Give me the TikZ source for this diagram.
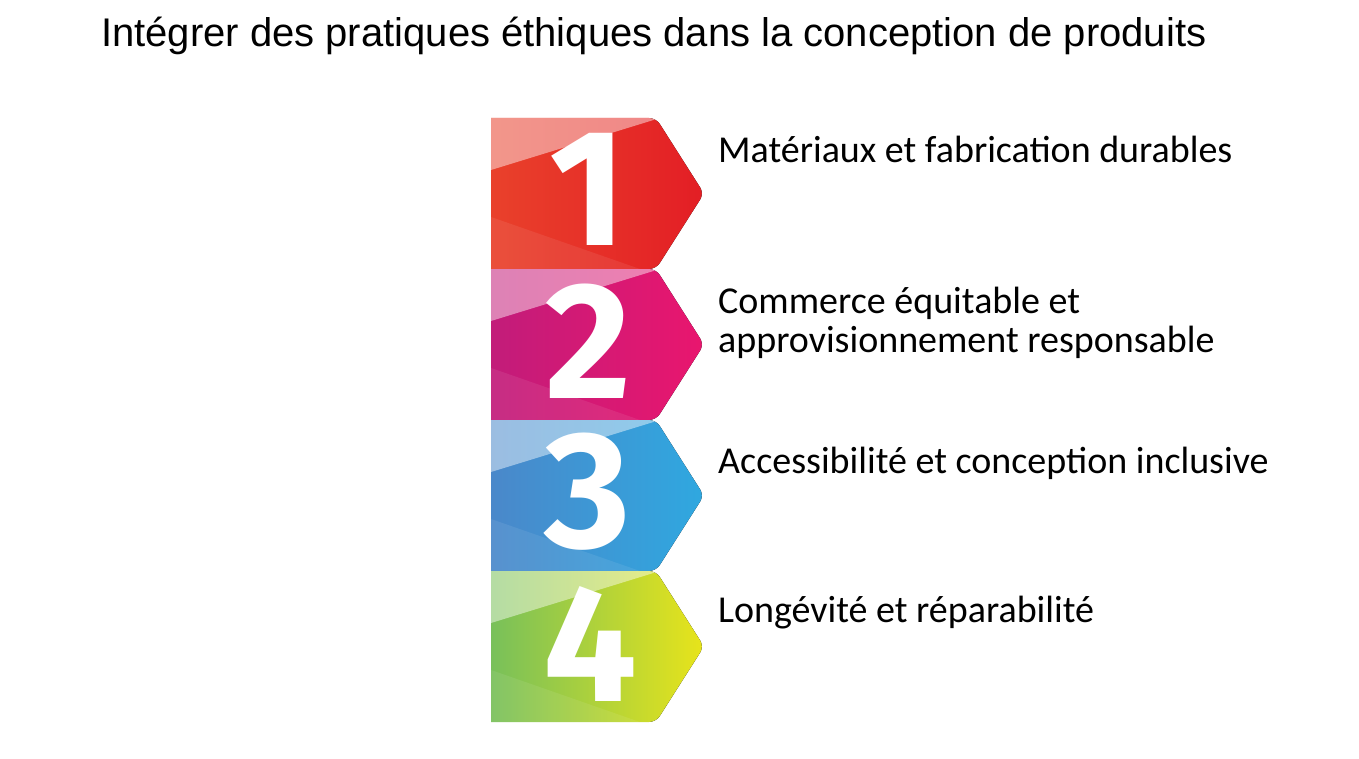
\documentclass[tikz,border=0pt]{standalone}
\usepackage{fontspec}
\setmainfont{Carlito}
\newfontfamily\titlefont{Liberation Sans}
\newfontfamily\digitfont{Fira Sans}
\usepackage{tikz}
\usetikzlibrary{positioning}
\definecolor{redL}{HTML}{E9412B}
\definecolor{redR}{HTML}{E31E25}
\definecolor{pinkL}{HTML}{C21C7A}
\definecolor{pinkR}{HTML}{E9166E}
\definecolor{blueL}{HTML}{4A88CA}
\definecolor{blueR}{HTML}{2FA8E0}
\definecolor{greenL}{HTML}{78C05A}
\definecolor{greenR}{HTML}{E8E41A}
\tikzset{%
	title/.style    = {anchor=base west, inner sep=0pt, font=\titlefont\fontsize{40}{48}\selectfont},
	label/.style    = {anchor=base west, inner sep=0pt, align=left, font=\fontsize{38}{39}\selectfont},
	digit/.style    = {text=white, inner sep=0pt, font=\digitfont\bfseries\fontsize{166}{166}\selectfont},
	band/.style     = {fill=white, fill opacity=0.45},
	lowband/.style  = {fill=white, fill opacity=0.08},
}

\begin{document}
\begin{tikzpicture}[x=1pt, y=-1pt]
	\useasboundingbox (0,0) rectangle (1359,759);
	\node[title] (title) at (101,47) {Intégrer des pratiques éthiques dans la conception de produits};
	
	% block 1
	\begin{scope}
		\clip (491,118) [rounded corners=7] -- (656,118) -- (704,193.5) -- (656,269) [sharp corners] -- (491,269) -- cycle;
		\fill[left color=redL, right color=redR] (491,118) rectangle (704,269);
		\fill[band] (491,118) -- (660,118) -- (491,170) -- cycle;
		\fill[lowband] (491,217) -- (640,269) -- (491,269) -- cycle;
	\end{scope}
	% block 2
	\begin{scope}
		\clip (491,269) [rounded corners=7] -- (656,269) -- (704,344.5) -- (656,420) [sharp corners] -- (491,420) -- cycle;
		\fill[left color=pinkL, right color=pinkR] (491,269) rectangle (704,420);
		\fill[band] (491,269) -- (660,269) -- (491,321) -- cycle;
		\fill[lowband] (491,368) -- (640,420) -- (491,420) -- cycle;
	\end{scope}
	% block 3
	\begin{scope}
		\clip (491,420) [rounded corners=7] -- (656,420) -- (704,495.5) -- (656,571) [sharp corners] -- (491,571) -- cycle;
		\fill[left color=blueL, right color=blueR] (491,420) rectangle (704,571);
		\fill[band] (491,420) -- (660,420) -- (491,472) -- cycle;
		\fill[lowband] (491,519) -- (640,571) -- (491,571) -- cycle;
	\end{scope}
	% block 4
	\begin{scope}
		\clip (491,571) [rounded corners=7] -- (656,571) -- (704,646.5) -- (656,722) [sharp corners] -- (491,722) -- cycle;
		\fill[left color=greenL, right color=greenR] (491,571) rectangle (704,722);
		\fill[band] (491,571) -- (660,571) -- (491,623) -- cycle;
		\fill[lowband] (491,670) -- (640,722) -- (491,722) -- cycle;
	\end{scope}
	
	\node[digit] (n1) at (588,189) {1};
	\node[digit] (n2) at (588,341) {2};
	\node[digit] (n3) at (588,492) {3};
	\node[digit] (n4) at (590,644) {4};
	
	\node[label] (l1) at (718,163) {Matériaux et fabrication durables};
	\node[label] (l2) at (718,352) {Commerce équitable et\\approvisionnement responsable};
	\node[label] (l3) at (718,473) {Accessibilité et conception inclusive};
	\node[label] (l4) at (718,622) {Longévité et réparabilité};
\end{tikzpicture}
\end{document}
